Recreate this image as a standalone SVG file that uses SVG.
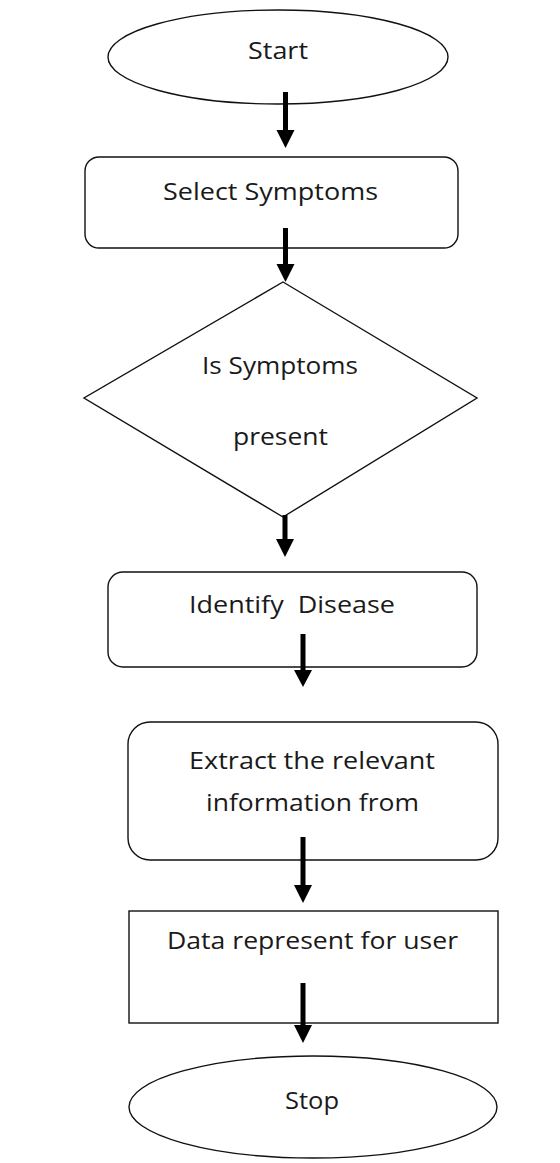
<svg xmlns="http://www.w3.org/2000/svg" width="560" height="1163" viewBox="0 0 560 1163">
<style>
.shape{fill:#fff;stroke:#111;stroke-width:1.4}
.lbl{font-family:"Open Sans","Liberation Sans",sans-serif;font-size:24px;fill:#1a1a1a;text-anchor:middle}
.arr{fill:#000;stroke:none}
</style>
<rect width="560" height="1163" fill="#fff"/>
<g id="start">
<ellipse class="shape" cx="278" cy="57" rx="170" ry="47"/>
<text class="lbl" x="278" y="59" textLength="60" lengthAdjust="spacingAndGlyphs">Start</text>
</g>
<g id="select">
<rect class="shape" x="85" y="157" width="373" height="91" rx="14"/>
<text class="lbl" x="270.5" y="200" textLength="215" lengthAdjust="spacingAndGlyphs">Select Symptoms</text>
</g>
<g id="decision">
<polygon class="shape" points="283,282 477,398 283,517 84,398"/>
<text class="lbl" x="280" y="374" textLength="156" lengthAdjust="spacingAndGlyphs">Is Symptoms</text>
<text class="lbl" x="280.5" y="445" textLength="95" lengthAdjust="spacingAndGlyphs">present</text>
</g>
<g id="identify">
<rect class="shape" x="108" y="572" width="369" height="95" rx="15"/>
<text class="lbl" x="292" y="613" textLength="206" lengthAdjust="spacingAndGlyphs" xml:space="preserve">Identify  Disease</text>
</g>
<g id="extract">
<rect class="shape" x="128" y="722" width="370" height="138" rx="22"/>
<text class="lbl" x="312" y="769" textLength="246" lengthAdjust="spacingAndGlyphs">Extract the relevant</text>
<text class="lbl" x="312.5" y="811" textLength="213" lengthAdjust="spacingAndGlyphs">information from</text>
</g>
<g id="data">
<rect class="shape" x="129" y="911" width="369" height="112"/>
<text class="lbl" x="312.5" y="949" textLength="291" lengthAdjust="spacingAndGlyphs">Data represent for user</text>
</g>
<g id="stop">
<ellipse class="shape" cx="313" cy="1107" rx="184" ry="51"/>
<text class="lbl" x="312" y="1109" textLength="54" lengthAdjust="spacingAndGlyphs">Stop</text>
</g>
<g id="connectors">
<polygon class="arr" points="283,92 288,92 288,130 294.5,130 285.5,148 276.5,130 283,130"/>
<polygon class="arr" points="283,228 288,228 288,264 294.5,264 285.5,282 276.5,264 283,264"/>
<polygon class="arr" points="282.5,515 287.5,515 287.5,539 294,539 285,557 276,539 282.5,539"/>
<polygon class="arr" points="300.5,634 305.5,634 305.5,670 312,670 303,687 294,670 300.5,670"/>
<polygon class="arr" points="300.5,837 305.5,837 305.5,885 312,885 303,903 294,885 300.5,885"/>
<polygon class="arr" points="300.5,983 305.5,983 305.5,1025 312,1025 303,1043 294,1025 300.5,1025"/>
</g>
</svg>
